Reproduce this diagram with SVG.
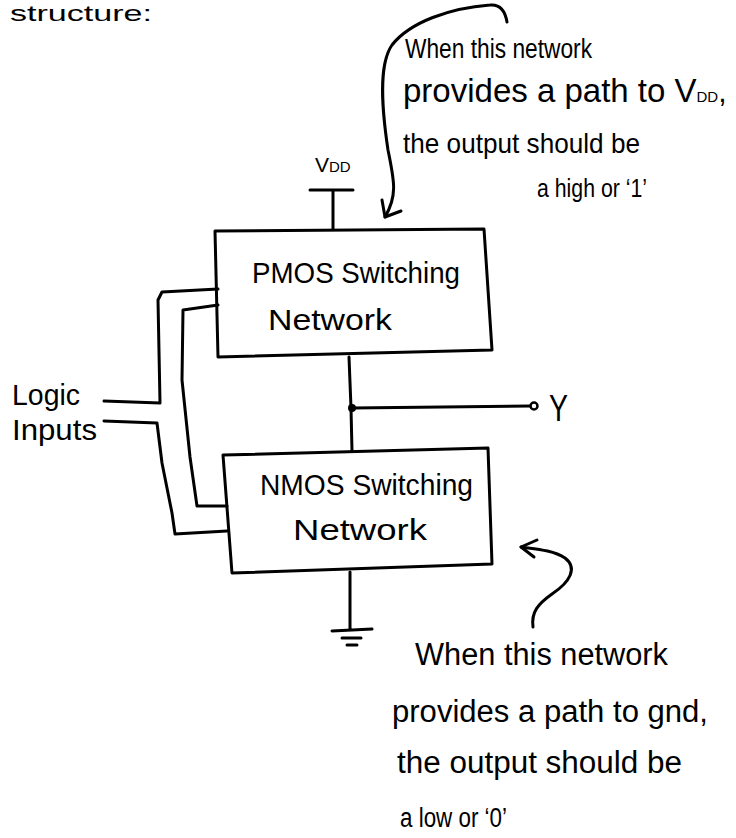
<svg xmlns="http://www.w3.org/2000/svg" width="736" height="838" viewBox="0 0 736 838">
<style>
.w{fill:none;stroke:#000;stroke-width:3;stroke-linecap:round;stroke-linejoin:round}
.t{font-family:"Liberation Sans",Arial,sans-serif;fill:#000}
</style>
<rect width="736" height="838" fill="#fff"/>
<g id="title">
<text class="t" x="10" y="21" font-size="22" textLength="142" lengthAdjust="spacingAndGlyphs">structure:</text>
</g>
<g id="pmos">
<path class="w" d="M215,231 L484,229 L492,350 L218,357 Z"/>
<text class="t" x="252" y="283" font-size="30" textLength="208" lengthAdjust="spacingAndGlyphs">PMOS Switching</text>
<text class="t" x="268" y="330" font-size="30" textLength="124" lengthAdjust="spacingAndGlyphs">Network</text>
</g>
<g id="nmos">
<path class="w" d="M223,455 L488,448 L492,564 L232,573 Z"/>
<text class="t" x="260" y="495" font-size="30" textLength="213" lengthAdjust="spacingAndGlyphs">NMOS Switching</text>
<text class="t" x="293" y="540" font-size="30" textLength="134" lengthAdjust="spacingAndGlyphs">Network</text>
</g>
<g id="vdd">
<path class="w" d="M310,190 L353,190 M333,190 L333,229"/>
<text class="t" x="315" y="172" font-size="21">V<tspan font-size="15">DD</tspan></text>
</g>
<g id="gnd">
<path class="w" d="M350,572 L350,630 M332,631 L372,629 M342,638 L361,638 M347,645 L357,645"/>
</g>
<g id="output">
<circle cx="534" cy="406" r="3.5" fill="#fff" stroke="#000" stroke-width="2.5"/>
<text class="t" x="549" y="421" font-size="36" textLength="19" lengthAdjust="spacingAndGlyphs">Y</text>
</g>
<g id="logic-inputs">
<text class="t" x="12" y="405" font-size="30" textLength="68" lengthAdjust="spacingAndGlyphs">Logic</text>
<text class="t" x="12" y="440" font-size="30" textLength="85" lengthAdjust="spacingAndGlyphs">Inputs</text>
</g>
<g id="connectors">
<path class="w" d="M349,357 L351,408 L352,451"/>
<path class="w" d="M352,408 L530,406"/>
<circle cx="352" cy="408" r="4" fill="#000"/>
<path class="w" d="M218,289 L162,292 L158,300 L160,403 L104,401"/>
<path class="w" d="M104,421 L157,423 L162,463 L172,513 L175,534 L227,531"/>
<path class="w" d="M218,305 L183,310 L182,380 L190,457 L197,506 L227,506"/>
<path class="w" d="M507,22 C505,10 500,4 490,5 C450,8 410,22 392,45 C378,65 382,110 388,150 C394,180 398,195 385,217"/>
<path class="w" d="M382,200 L385,217 L401,211"/>
<path class="w" d="M533,627 C531,612 538,604 552,594 C570,582 578,568 565,558 C553,550 535,549 521,547"/>
<path class="w" d="M537,540 L521,547 L534,557"/>
</g>
<g id="note-pmos">
<text class="t" x="405" y="58" font-size="27" textLength="187" lengthAdjust="spacingAndGlyphs">When this network</text>
<text class="t" x="403" y="102" font-size="33">provides a path to V<tspan font-size="15">DD</tspan><tspan font-size="30">,</tspan></text>
<text class="t" x="403" y="153" font-size="28" textLength="237" lengthAdjust="spacingAndGlyphs">the output should be</text>
<text class="t" x="537" y="197" font-size="26" textLength="110" lengthAdjust="spacingAndGlyphs">a high or ‘1’</text>
</g>
<g id="note-nmos">
<text class="t" x="415" y="665" font-size="31" textLength="253" lengthAdjust="spacingAndGlyphs">When this network</text>
<text class="t" x="392" y="722" font-size="31" textLength="316" lengthAdjust="spacingAndGlyphs">provides a path to gnd,</text>
<text class="t" x="397" y="773" font-size="31" textLength="285" lengthAdjust="spacingAndGlyphs">the output should be</text>
<text class="t" x="400" y="827" font-size="27" textLength="107" lengthAdjust="spacingAndGlyphs">a low or ‘0’</text>
</g>
</svg>
